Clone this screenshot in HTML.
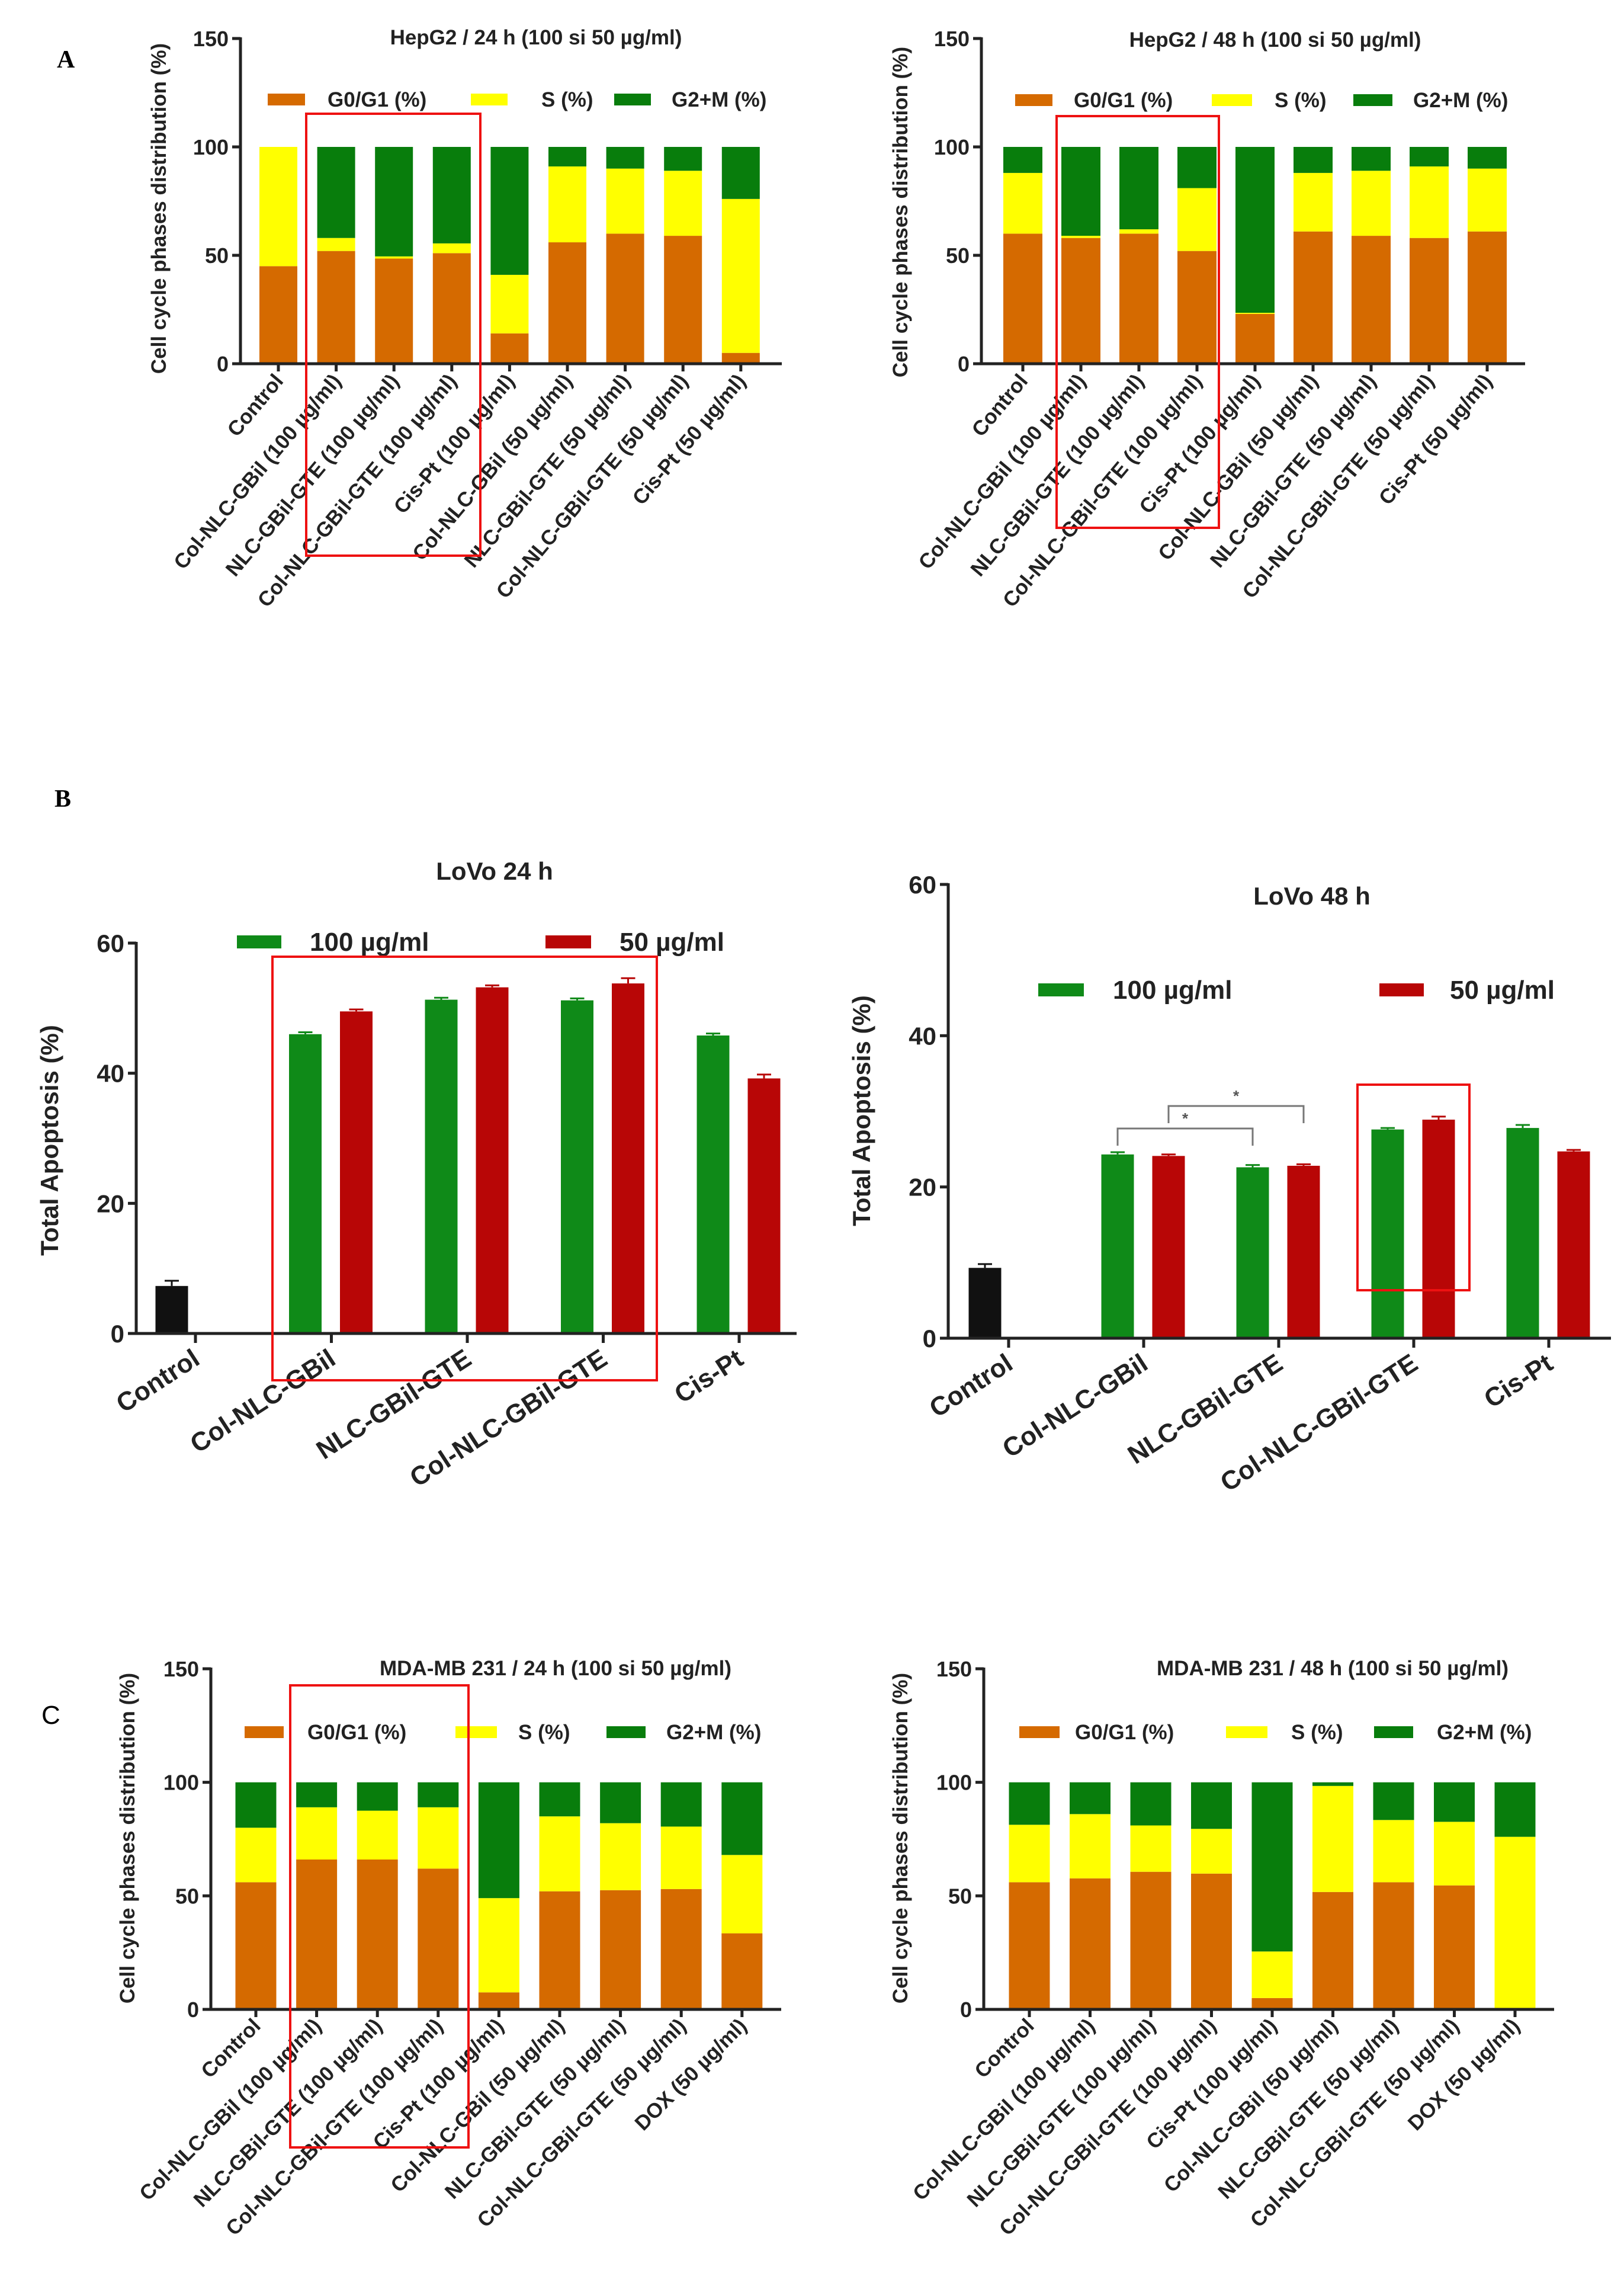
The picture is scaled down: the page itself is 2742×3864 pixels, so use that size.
<!DOCTYPE html>
<html><head><meta charset="utf-8"><style>
html,body{margin:0;padding:0;background:#fff;}
svg{display:block;font-family:"Liberation Sans",sans-serif;}
</style></head><body>
<svg id="fig" width="2742" height="3864" viewBox="0 0 2742 3864" xmlns="http://www.w3.org/2000/svg">
<rect x="0" y="0" width="2742" height="3864" fill="#fff"/>
<text x="96" y="114" font-family="Liberation Serif, serif" font-weight="bold" font-size="42">A</text>
<text x="92" y="1362" font-family="Liberation Serif, serif" font-weight="bold" font-size="42">B</text>
<text x="70" y="2910" font-size="44">C</text>
</svg>
<script>
// ===== Data =====
const phaseLabelsA = ["Control","Col-NLC-GBil (100 µg/ml)","NLC-GBil-GTE (100 µg/ml)","Col-NLC-GBil-GTE (100 µg/ml)","Cis-Pt (100 µg/ml)","Col-NLC-GBil (50 µg/ml)","NLC-GBil-GTE (50 µg/ml)","Col-NLC-GBil-GTE (50 µg/ml)","Cis-Pt (50 µg/ml)"];
const phaseLabelsC = ["Control","Col-NLC-GBil (100 µg/ml)","NLC-GBil-GTE (100 µg/ml)","Col-NLC-GBil-GTE (100 µg/ml)","Cis-Pt (100 µg/ml)","Col-NLC-GBil (50 µg/ml)","NLC-GBil-GTE (50 µg/ml)","Col-NLC-GBil-GTE (50 µg/ml)","DOX (50 µg/ml)"];
const phaseTicks = [0,50,100,150];

const hep24G0 = [45,52,48.5,51,14,56,60,59,5];
const hep24S  = [55,6,1,4.5,27,35,30,30,71];
const hep24G2 = [0,42,50.5,44.5,59,9,10,11,24];

const hep48G0 = [60,58,60,52,23,61,59,58,61];
const hep48S  = [28,1,2,29,0.5,27,30,33,29];
const hep48G2 = [12,41,38,19,76.5,12,11,9,10];

const mda24G0 = [56,66,66,62,7.5,52,52.5,53,33.5];
const mda24S  = [24,23,21.5,27,41.5,33,29.5,27.5,34.5];
const mda24G2 = [20,11,12.5,11,51,15,18,19.5,32];

const mda48G0 = [56,57.7,60.6,59.8,5,51.7,56,54.6,0];
const mda48S  = [25.3,28.3,20.4,19.7,20.5,46.7,27.4,28,76];
const mda48G2 = [18.7,14,19,20.5,74.5,1.6,16.6,17.4,24];

const apoCategories = ["Control","Col-NLC-GBil","NLC-GBil-GTE","Col-NLC-GBil-GTE","Cis-Pt"];
const apoTicks = [0,20,40,60];
const lovo24Control = 7.3, lovo24ControlErr = 0.8;
const lovo24High = [46,51.3,51.2,45.8];
const lovo24Low  = [49.5,53.2,53.8,39.2];
const lovo24HighErr = [0.3,0.3,0.3,0.3];
const lovo24LowErr  = [0.3,0.3,0.8,0.6];
const lovo48Control = 9.3, lovo48ControlErr = 0.5;
const lovo48High = [24.3,22.6,27.6,27.8];
const lovo48Low  = [24.1,22.8,28.9,24.7];
const lovo48HighErr = [0.3,0.3,0.2,0.4];
const lovo48LowErr  = [0.2,0.2,0.4,0.2];

// ===== Helpers =====
const NS="http://www.w3.org/2000/svg";
const svg=document.getElementById('fig');
function mk(tag,attrs,parent){const e=document.createElementNS(NS,tag);for(const k in attrs)e.setAttribute(k,attrs[k]);(parent||svg).appendChild(e);return e;}
const ORANGE="#d56a00",YELLOW="#ffff00",GREEN="#087d0c",GREEN2="#0f8a18",RED="#b80606";

function stacked(o){
  const g=mk('g',{});
  
  
  const y=v=>o.y0+(o.y150-o.y0)*v/150;
  const x=i=>o.first+i*o.step;
  for(let i=0;i<o.g0.length;i++){
    let base=0;
    const segs=[[o.g0[i],ORANGE,'g0g1'],[o.s[i],YELLOW,'s-phase'],[o.g2[i],GREEN,'g2m']];
    segs.forEach(sg=>{
      if(sg[0]<=0)return;
      const r=mk('rect',{x:x(i)-o.bw/2,y:y(base+sg[0]),width:o.bw,height:y(base)-y(base+sg[0]),fill:sg[1]},g);
      
      
      base+=sg[0];
    });
  }
  const ya=mk('line',{x1:o.ax,y1:o.y150-2,x2:o.ax,y2:o.y0+2,stroke:'#222','stroke-width':5},g);
  
  const xa=mk('line',{x1:o.ax-14,y1:o.y0,x2:o.axEnd,y2:o.y0,stroke:'#222','stroke-width':5},g);
  
  phaseTicks.forEach(t=>{
    mk('line',{x1:o.ax-14,y1:y(t),x2:o.ax,y2:y(t),stroke:'#222','stroke-width':5},g);
    const tx=mk('text',{x:o.ax-20,y:y(t)+13,'text-anchor':'end','font-size':36,'font-weight':'bold',fill:'#222'},g);
    tx.textContent=t;
    
  });
  o.labels.forEach((l,i)=>{
    mk('line',{x1:x(i),y1:o.y0,x2:x(i),y2:o.y0+13,stroke:'#222','stroke-width':5},g);
    const tx=mk('text',{transform:`translate(${x(i)+10},${o.y0+30}) rotate(${o.rot})`,'text-anchor':'end','font-size':35,'font-weight':'bold',fill:'#222'},g);
    tx.textContent=l;
    
  });
  const yl=mk('text',{transform:`translate(${o.ylx},${o.yly}) rotate(-90)`,'text-anchor':'middle','font-size':35,'font-weight':'bold',fill:'#222'},g);
  yl.textContent='Cell cycle phases distribution (%)';
  
  const ti=mk('text',{x:o.tx,y:o.ty,'text-anchor':'middle','font-size':35,'font-weight':'bold',fill:'#222'},g);
  ti.textContent=o.title;
  
  const leg=[[ORANGE,'G0/G1 (%)'],[YELLOW,'S (%)'],[GREEN,'G2+M (%)']];
  leg.forEach((L,k)=>{
    const r=mk('rect',{x:o.leg[k][0],y:o.ly-10,width:o.leg[k][1]-o.leg[k][0],height:20,fill:L[0]},g);
    
    const t=mk('text',{x:o.leg[k][2],y:o.ly+12,'font-size':35,'font-weight':'bold',fill:'#222'},g);
    t.textContent=L[1];
    
  });
  if(o.box){
    const rb=mk('rect',{x:o.box[0],y:o.box[1],width:o.box[2]-o.box[0],height:o.box[3]-o.box[1],fill:'none',stroke:'#ee1111','stroke-width':4},g);
    
  }
}

stacked({name:'hepg2-24h-chart',g0:hep24G0,s:hep24S,g2:hep24G2,labels:phaseLabelsA,ax:406,y0:614,y150:65,first:470,step:97.6,bw:64,axEnd:1320,rot:-50,
  ylx:280,yly:352,tx:905,ty:75,title:'HepG2 / 24 h (100 si 50 µg/ml)',ly:168,
  leg:[[452,515,553],[795,857,914],[1037,1099,1134]],box:[517,192,811,938]});
stacked({name:'hepg2-48h-chart',g0:hep48G0,s:hep48S,g2:hep48G2,labels:phaseLabelsA,ax:1657,y0:614,y150:65,first:1727,step:98,bw:66,axEnd:2575,rot:-50,
  ylx:1532,yly:358,tx:2153,ty:79,title:'HepG2 / 48 h (100 si 50 µg/ml)',ly:169,
  leg:[[1714,1777,1813],[2046,2114,2152],[2285,2351,2386]],box:[1784,196,2058,891]});
stacked({name:'mda-24h-chart',g0:mda24G0,s:mda24S,g2:mda24G2,labels:phaseLabelsC,ax:356,y0:3392,y150:2817,first:432,step:102.6,bw:69,axEnd:1319,rot:-45,
  ylx:227,yly:3103,tx:938,ty:2828,title:'MDA-MB 231 / 24 h (100 si 50 µg/ml)',ly:2924,
  leg:[[413,479,519],[769,839,875],[1024,1090,1125]],box:[490,2845,791,3625]});
stacked({name:'mda-48h-chart',g0:mda48G0,s:mda48S,g2:mda48G2,labels:phaseLabelsC,ax:1661,y0:3392,y150:2817,first:1738,step:102.5,bw:69,axEnd:2624,rot:-45,
  ylx:1532,yly:3103,tx:2250,ty:2828,title:'MDA-MB 231 / 48 h (100 si 50 µg/ml)',ly:2924,
  leg:[[1721,1789,1815],[2070,2140,2180],[2320,2386,2426]],box:null});

function grouped(o){
  const g=mk('g',{});
  
  
  const y=v=>o.y0+(o.y60-o.y0)*v/60;
  const tick=i=>o.t0+i*o.tstep;
  const bw=55;
  function bar(cx,v,e,col,nm){
    const r=mk('rect',{x:cx-bw/2,y:y(v),width:bw,height:y(0)-y(v),fill:col},g);
    
    mk('line',{x1:cx,y1:y(v),x2:cx,y2:y(v+e),stroke:col,'stroke-width':3},g);
    mk('line',{x1:cx-12,y1:y(v+e),x2:cx+12,y2:y(v+e),stroke:col,'stroke-width':3},g);
  }
  bar(tick(0)-40,o.ctrl,o.ctrlErr,'#111','bar-control');
  for(let i=0;i<o.hi.length;i++){
    bar(tick(i+1)-44,o.hi[i],o.hiErr[i],GREEN2,'bar-100-'+i);
    bar(tick(i+1)+42,o.lo[i],o.loErr[i],RED,'bar-50-'+i);
  }
  const ya=mk('line',{x1:o.ax,y1:o.y60-2,x2:o.ax,y2:o.y0+2,stroke:'#222','stroke-width':5},g);
  
  const xa=mk('line',{x1:o.ax-14,y1:o.y0,x2:o.axEnd,y2:o.y0,stroke:'#222','stroke-width':5},g);
  
  apoTicks.forEach(t=>{
    mk('line',{x1:o.ax-14,y1:y(t),x2:o.ax,y2:y(t),stroke:'#222','stroke-width':5},g);
    const tx=mk('text',{x:o.ax-20,y:y(t)+15,'text-anchor':'end','font-size':42,'font-weight':'bold',fill:'#222'},g);
    tx.textContent=t;
    
  });
  apoCategories.forEach((c,i)=>{
    mk('line',{x1:tick(i),y1:o.y0,x2:tick(i),y2:o.y0+16,stroke:'#222','stroke-width':5},g);
    const tx=mk('text',{transform:`translate(${tick(i)+10},${o.y0+50}) rotate(-33)`,'text-anchor':'end','font-size':44,'font-weight':'bold',fill:'#222'},g);
    tx.textContent=c;
    
  });
  const yl=mk('text',{transform:`translate(${o.ylx},${o.yly}) rotate(-90)`,'text-anchor':'middle','font-size':42,'font-weight':'bold',fill:'#222'},g);
  yl.textContent='Total Apoptosis (%)';
  
  const ti=mk('text',{x:o.tx,y:o.ty,'text-anchor':'middle','font-size':42,'font-weight':'bold',fill:'#222'},g);
  ti.textContent=o.title;
  
  [[GREEN2,'100 µg/ml'],[RED,'50 µg/ml']].forEach((L,k)=>{
    const r=mk('rect',{x:o.leg[k][0],y:o.ly-11,width:o.leg[k][1]-o.leg[k][0],height:22,fill:L[0]},g);
    
    const t=mk('text',{x:o.leg[k][2],y:o.ly+15,'font-size':44,'font-weight':'bold',fill:'#222'},g);
    t.textContent=L[1];
    
  });
  const rb=mk('rect',{x:o.box[0],y:o.box[1],width:o.box[2]-o.box[0],height:o.box[3]-o.box[1],fill:'none',stroke:'#ee1111','stroke-width':4},g);
  
  return {g,y,tick};
}

grouped({name:'lovo-24h-chart',ctrl:lovo24Control,ctrlErr:lovo24ControlErr,hi:lovo24High,lo:lovo24Low,hiErr:lovo24HighErr,loErr:lovo24LowErr,
  ax:230,y0:2251,y60:1592,t0:330,tstep:229.5,axEnd:1345,ylx:98,yly:1925,tx:835,ty:1485,title:'LoVo 24 h',ly:1590,
  leg:[[400,475,523],[921,998,1046]],box:[460,1615,1109,2330]});
const r48=grouped({name:'lovo-48h-chart',ctrl:lovo48Control,ctrlErr:lovo48ControlErr,hi:lovo48High,lo:lovo48Low,hiErr:lovo48HighErr,loErr:lovo48LowErr,
  ax:1601,y0:2259,y60:1493,t0:1703,tstep:228,axEnd:2720,ylx:1469,yly:1875,tx:2215,ty:1527,title:'LoVo 48 h',ly:1671,
  leg:[[1753,1830,1879],[2329,2404,2448]],box:[2292,1831,2481,2178]});
function bracket(x1,x2,yt,yl1,yl2,nm){
  const p=mk('path',{d:`M${x1},${yl1} L${x1},${yt} L${x2},${yt} L${x2},${yl2}`,fill:'none',stroke:'#777','stroke-width':3},r48.g);
  
  const s=mk('text',{x:(x1+x2)/2,y:yt-8,'text-anchor':'middle','font-size':26,'font-weight':'bold',fill:'#555'},r48.g);
  s.textContent='*';
  
}
bracket(r48.tick(1)-44,r48.tick(2)-44,1905,1934,1934,'significance-bracket-1');
bracket(r48.tick(1)+42,r48.tick(2)+42,1867,1896,1896,'significance-bracket-2');
</script>
</body></html>
